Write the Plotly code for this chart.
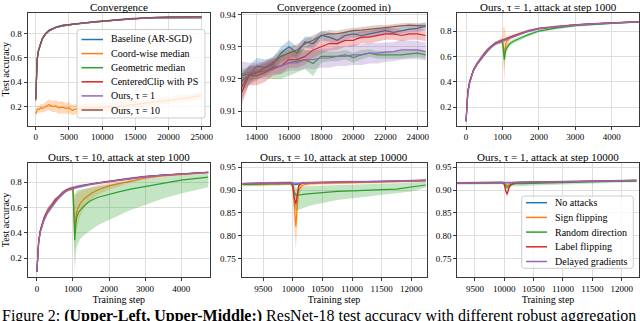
import plotly.graph_objects as go

W, H = 640, 321
SERIF = "Liberation Serif, Times New Roman, serif"

# Farben (matplotlib tab10)
BLAU, ORANGE, GRUEN, ROT, LILA, BRAUN = "#1f77b4", "#ff7f0e", "#2ca02c", "#d62728", "#9467bd", "#8c564b"

# ---------------- Panel 1: Convergence ----------------
conv_steps = [0, 100, 200, 400, 600, 800, 1000, 1500, 2000, 3000, 4000, 5000, 6000, 7000, 8000,
              9000, 10000, 12000, 14000, 16000, 18000, 20000, 22000, 24000, 25000]
conv_baseline = [0.27, 0.50, 0.59, 0.66, 0.70, 0.735, 0.76, 0.80, 0.825, 0.85, 0.865, 0.872, 0.880, 0.886, 0.891,
                 0.896, 0.900, 0.911, 0.921, 0.927, 0.931, 0.933, 0.934, 0.935, 0.936]
conv_geomed = [0.26, 0.49, 0.58, 0.655, 0.695, 0.73, 0.755, 0.795, 0.82, 0.848, 0.862, 0.870, 0.878, 0.884, 0.889,
               0.894, 0.898, 0.908, 0.918, 0.924, 0.926, 0.927, 0.9275, 0.928, 0.9275]
conv_cclip = [0.25, 0.48, 0.58, 0.655, 0.70, 0.73, 0.758, 0.798, 0.822, 0.848, 0.864, 0.871, 0.879, 0.885, 0.890,
              0.895, 0.899, 0.909, 0.919, 0.925, 0.929, 0.932, 0.934, 0.934, 0.9335]
conv_tau1 = [0.27, 0.50, 0.59, 0.66, 0.70, 0.735, 0.758, 0.797, 0.822, 0.848, 0.862, 0.870, 0.878, 0.884, 0.889,
             0.894, 0.898, 0.908, 0.919, 0.925, 0.926, 0.9275, 0.928, 0.929, 0.9285]
conv_tau10 = [0.26, 0.49, 0.585, 0.66, 0.70, 0.735, 0.76, 0.80, 0.825, 0.85, 0.865, 0.872, 0.880, 0.886, 0.891,
              0.896, 0.900, 0.911, 0.922, 0.928, 0.933, 0.935, 0.936, 0.9365, 0.9364]
conv_sd = [0.02, 0.02, 0.02, 0.015, 0.012, 0.01, 0.01, 0.008, 0.007, 0.006, 0.005, 0.005, 0.004, 0.004, 0.004,
           0.003, 0.003, 0.003, 0.002, 0.002, 0.002, 0.002, 0.002, 0.002, 0.002]

cm_steps = [0, 250, 500, 750, 1000, 1500, 2000, 2500, 3000, 3500, 4000, 4500, 5000, 5500, 6000, 7000, 8000,
            9000, 10000, 11000, 12000, 13000, 14000, 15000, 16000, 17000, 18000, 19000, 20000, 21000, 22000,
            23000, 24000, 25000]
cm_mean = [0.14, 0.18, 0.175, 0.19, 0.185, 0.20, 0.215, 0.20, 0.205, 0.19, 0.195, 0.185, 0.19, 0.17, 0.18, 0.185,
           0.19, 0.188, 0.195, 0.20, 0.198, 0.205, 0.21, 0.215, 0.22, 0.228, 0.235, 0.245, 0.25, 0.258, 0.265,
           0.272, 0.283, 0.29]
cm_sd = [0.02, 0.03, 0.03, 0.035, 0.035, 0.04, 0.045, 0.045, 0.05, 0.05, 0.05, 0.045, 0.045, 0.04, 0.04, 0.04,
         0.04, 0.035, 0.035, 0.035, 0.035, 0.03, 0.03, 0.03, 0.03, 0.03, 0.03, 0.03, 0.03, 0.03, 0.03,
         0.03, 0.03, 0.03]

# ---------------- Panel 2: Convergence (zoomed in) ----------------
zoom_steps = [13000, 13500, 14000, 14500, 15000, 15500, 16000, 16500, 17000, 17500, 18000, 18500,
              19000, 19500, 20000, 20500, 21000, 21500, 22000, 22500, 23000, 23500, 24000, 24500]
zoom_baseline = [0.919, 0.921, 0.924, 0.9235, 0.9245, 0.928, 0.930, 0.928, 0.9315, 0.931, 0.9335, 0.933,
                 0.932, 0.9335, 0.934, 0.9335, 0.934, 0.9345, 0.935, 0.9345, 0.935, 0.9355, 0.9357, 0.9365]
zoom_geomed = [0.921, 0.9215, 0.922, 0.9225, 0.923, 0.924, 0.925, 0.9255, 0.926, 0.9248, 0.927, 0.927,
               0.927, 0.9275, 0.9266, 0.9275, 0.928, 0.9275, 0.9275, 0.9275, 0.9275, 0.9278, 0.928, 0.9275]
zoom_cclip = [0.915, 0.921, 0.921, 0.922, 0.9235, 0.924, 0.926, 0.926, 0.927, 0.929, 0.930, 0.931,
              0.931, 0.932, 0.932, 0.933, 0.933, 0.9335, 0.934, 0.934, 0.9335, 0.934, 0.934, 0.9335]
zoom_tau1 = [0.9215, 0.922, 0.9225, 0.923, 0.924, 0.924, 0.925, 0.925, 0.926, 0.926, 0.9265, 0.9265,
             0.927, 0.927, 0.9275, 0.9275, 0.928, 0.928, 0.9283, 0.9285, 0.929, 0.929, 0.929, 0.9285]
zoom_tau10 = [0.917, 0.921, 0.922, 0.9235, 0.925, 0.927, 0.928, 0.929, 0.931, 0.932, 0.9335, 0.934,
              0.934, 0.9345, 0.935, 0.9352, 0.9355, 0.9358, 0.936, 0.9362, 0.9365, 0.9367, 0.9366, 0.9364]
zoom_baseline_sd = [0.003, 0.003, 0.0025, 0.0025, 0.002, 0.002, 0.002, 0.002, 0.0018, 0.0018, 0.0015, 0.0015,
                    0.0015, 0.0012, 0.0012, 0.0012, 0.001, 0.001, 0.001, 0.001, 0.001, 0.001, 0.0012, 0.0012]
zoom_geomed_sd = [0.002, 0.002, 0.002, 0.002, 0.003, 0.004, 0.004, 0.0035, 0.003, 0.004, 0.002, 0.0015,
                  0.0015, 0.0015, 0.0015, 0.0015, 0.0012, 0.0012, 0.0012, 0.0012, 0.0012, 0.0012, 0.0012, 0.0012]
zoom_cclip_sd = [0.004, 0.003, 0.003, 0.003, 0.0025, 0.0025, 0.0025, 0.0025, 0.0025, 0.0025, 0.0022, 0.0022,
                 0.002, 0.002, 0.002, 0.002, 0.002, 0.002, 0.0018, 0.0018, 0.0018, 0.0018, 0.0018, 0.0018]
zoom_tau1_sd = [0.004, 0.003, 0.0025, 0.0025, 0.0025, 0.0025, 0.0025, 0.0025, 0.0028, 0.003, 0.003, 0.003,
                0.003, 0.003, 0.0032, 0.0032, 0.0032, 0.0032, 0.003, 0.003, 0.003, 0.003, 0.0028, 0.0028]
zoom_tau10_sd = [0.004, 0.003, 0.0025, 0.002, 0.002, 0.002, 0.0018, 0.0018, 0.0015, 0.0015, 0.0012, 0.0012,
                 0.001, 0.001, 0.001, 0.001, 0.001, 0.001, 0.0008, 0.0008, 0.0008, 0.0008, 0.0008, 0.0008]

# ---------------- Panel 3: tau = 1, attack at step 1000 ----------------
a1_steps = [0, 25, 50, 100, 150, 200, 300, 400, 500, 600, 700, 800, 900, 1000, 1025, 1050, 1075, 1100,
            1200, 1300, 1500, 1700, 2000, 2500, 3000, 3500, 4000, 4500, 4740]
a1_none = [0.09, 0.25, 0.32, 0.40, 0.45, 0.49, 0.54, 0.58, 0.62, 0.65, 0.68, 0.70, 0.715, 0.725, 0.727, 0.73,
           0.732, 0.735, 0.75, 0.76, 0.78, 0.80, 0.82, 0.835, 0.848, 0.857, 0.864, 0.870, 0.873]
a1_sign = [0.09, 0.25, 0.32, 0.40, 0.45, 0.49, 0.54, 0.58, 0.62, 0.65, 0.68, 0.70, 0.715, 0.722, 0.68, 0.62,
           0.67, 0.71, 0.745, 0.76, 0.78, 0.80, 0.82, 0.835, 0.848, 0.857, 0.864, 0.870, 0.873]
a1_random = [0.09, 0.25, 0.32, 0.40, 0.45, 0.49, 0.54, 0.58, 0.62, 0.65, 0.68, 0.70, 0.715, 0.72, 0.63, 0.575,
             0.62, 0.66, 0.70, 0.72, 0.745, 0.77, 0.80, 0.825, 0.842, 0.853, 0.861, 0.868, 0.871]
a1_label = [0.09, 0.26, 0.33, 0.40, 0.45, 0.49, 0.545, 0.585, 0.62, 0.655, 0.68, 0.705, 0.715, 0.725, 0.727, 0.73,
            0.733, 0.736, 0.75, 0.762, 0.78, 0.80, 0.82, 0.836, 0.848, 0.858, 0.865, 0.870, 0.874]
a1_delay = [0.09, 0.24, 0.31, 0.39, 0.445, 0.49, 0.54, 0.58, 0.615, 0.65, 0.675, 0.70, 0.712, 0.722, 0.725, 0.728,
            0.73, 0.733, 0.748, 0.758, 0.778, 0.798, 0.818, 0.834, 0.847, 0.856, 0.863, 0.869, 0.872]
a1_sd = [0.01, 0.02, 0.02, 0.02, 0.015, 0.015, 0.015, 0.015, 0.015, 0.015, 0.012, 0.012, 0.012, 0.012, 0.012,
         0.012, 0.012, 0.012, 0.01, 0.01, 0.01, 0.01, 0.008, 0.008, 0.007, 0.007, 0.006, 0.006, 0.006]
a1_sign_sd = [0.01, 0.02, 0.02, 0.02, 0.015, 0.015, 0.015, 0.015, 0.015, 0.015, 0.012, 0.012, 0.012, 0.03, 0.15,
              0.22, 0.12, 0.05, 0.02, 0.015, 0.01, 0.01, 0.008, 0.008, 0.007, 0.007, 0.006, 0.006, 0.006]
a1_random_sd = [0.01, 0.02, 0.02, 0.02, 0.015, 0.015, 0.015, 0.015, 0.015, 0.015, 0.012, 0.012, 0.012, 0.02, 0.06,
                0.08, 0.05, 0.03, 0.02, 0.018, 0.015, 0.012, 0.01, 0.01, 0.008, 0.007, 0.006, 0.006, 0.006]

# ---------------- Panel 4: tau = 10, attack at step 1000 ----------------
a10_steps = [0, 25, 50, 100, 150, 200, 300, 400, 500, 600, 700, 800, 900, 1000, 1025, 1050, 1075, 1100, 1150,
             1200, 1300, 1400, 1500, 1700, 2000, 2300, 2600, 3000, 3500, 4000, 4500, 4750]
a10_none = [0.09, 0.25, 0.33, 0.42, 0.47, 0.51, 0.57, 0.61, 0.65, 0.68, 0.71, 0.73, 0.745, 0.755, 0.757, 0.758,
            0.76, 0.762, 0.765, 0.768, 0.775, 0.78, 0.785, 0.795, 0.805, 0.818, 0.83, 0.843, 0.855, 0.865,
            0.873, 0.877]
a10_sign = [0.09, 0.25, 0.33, 0.42, 0.47, 0.51, 0.57, 0.61, 0.65, 0.68, 0.71, 0.73, 0.745, 0.752, 0.60, 0.44,
            0.50, 0.56, 0.60, 0.63, 0.665, 0.69, 0.71, 0.74, 0.77, 0.79, 0.81, 0.832, 0.85, 0.862, 0.870, 0.875]
a10_random = [0.09, 0.25, 0.33, 0.42, 0.47, 0.51, 0.57, 0.61, 0.65, 0.68, 0.71, 0.73, 0.745, 0.748, 0.50, 0.34,
              0.45, 0.52, 0.56, 0.58, 0.61, 0.635, 0.655, 0.68, 0.705, 0.725, 0.745, 0.765, 0.79, 0.815,
              0.832, 0.84]
a10_random_lo = [0.08, 0.23, 0.31, 0.40, 0.45, 0.49, 0.55, 0.59, 0.63, 0.665, 0.695, 0.72, 0.735, 0.735, 0.30, 0.10,
                 0.20, 0.28, 0.32, 0.35, 0.38, 0.40, 0.42, 0.46, 0.50, 0.54, 0.58, 0.62, 0.67, 0.71, 0.745, 0.76]
a10_random_hi = [0.10, 0.27, 0.35, 0.44, 0.49, 0.53, 0.59, 0.63, 0.67, 0.695, 0.725, 0.74, 0.755, 0.76, 0.72, 0.70,
                 0.72, 0.73, 0.74, 0.745, 0.75, 0.755, 0.76, 0.77, 0.78, 0.795, 0.81, 0.825, 0.84, 0.855, 0.862,
                 0.866]
a10_label = [0.09, 0.26, 0.34, 0.42, 0.47, 0.52, 0.575, 0.61, 0.655, 0.68, 0.71, 0.735, 0.745, 0.755, 0.756, 0.757,
             0.76, 0.762, 0.765, 0.768, 0.774, 0.78, 0.785, 0.795, 0.806, 0.818, 0.83, 0.844, 0.856, 0.866,
             0.874, 0.878]
a10_delay = [0.09, 0.24, 0.32, 0.41, 0.465, 0.50, 0.565, 0.605, 0.645, 0.675, 0.705, 0.728, 0.742, 0.752, 0.755,
             0.756, 0.758, 0.76, 0.763, 0.766, 0.773, 0.778, 0.783, 0.793, 0.804, 0.816, 0.828, 0.842, 0.854,
             0.864, 0.872, 0.876]
a10_sd = [0.01, 0.02, 0.02, 0.02, 0.02, 0.02, 0.025, 0.02, 0.02, 0.015, 0.015, 0.012, 0.012, 0.012, 0.012, 0.012,
          0.012, 0.012, 0.012, 0.012, 0.01, 0.01, 0.01, 0.01, 0.01, 0.008, 0.008, 0.008, 0.007, 0.007, 0.006, 0.006]
a10_sign_sd = [0.01, 0.02, 0.02, 0.02, 0.02, 0.02, 0.025, 0.02, 0.02, 0.015, 0.015, 0.012, 0.012, 0.02, 0.12, 0.22,
               0.2, 0.15, 0.12, 0.1, 0.08, 0.06, 0.05, 0.04, 0.03, 0.02, 0.015, 0.012, 0.01, 0.008, 0.007, 0.006]

# ---------------- Panel 5 + 6: attack at step 10000 ----------------
late_steps = [9150, 9300, 9450, 9600, 9750, 9900, 9975, 10000, 10025, 10050, 10075, 10100, 10150, 10200,
              10300, 10500, 10750, 11000, 11250, 11500, 11750, 12000, 12250]
t10_none = [0.913, 0.914, 0.9145, 0.914, 0.9145, 0.915, 0.915, 0.914, 0.913, 0.912, 0.913, 0.914, 0.915, 0.915,
            0.916, 0.916, 0.917, 0.917, 0.918, 0.918, 0.919, 0.920, 0.921]
t10_sign = [0.912, 0.913, 0.912, 0.913, 0.913, 0.914, 0.914, 0.905, 0.85, 0.82, 0.87, 0.90, 0.91, 0.912,
            0.914, 0.915, 0.916, 0.916, 0.917, 0.918, 0.918, 0.919, 0.920]
t10_random = [0.912, 0.913, 0.913, 0.914, 0.914, 0.915, 0.915, 0.912, 0.895, 0.889, 0.889, 0.889, 0.890, 0.891,
              0.892, 0.895, 0.897, 0.898, 0.900, 0.901, 0.902, 0.906, 0.911]
t10_random_lo = [0.908, 0.909, 0.909, 0.91, 0.91, 0.911, 0.911, 0.905, 0.87, 0.855, 0.855, 0.857, 0.86, 0.862,
                 0.866, 0.872, 0.878, 0.882, 0.886, 0.89, 0.893, 0.897, 0.905]
t10_random_hi = [0.916, 0.917, 0.917, 0.918, 0.918, 0.919, 0.919, 0.917, 0.91, 0.905, 0.905, 0.906, 0.907, 0.908,
                 0.909, 0.911, 0.912, 0.913, 0.914, 0.915, 0.915, 0.916, 0.918]
t10_label = [0.914, 0.915, 0.915, 0.915, 0.916, 0.916, 0.916, 0.905, 0.88, 0.87, 0.895, 0.91, 0.915, 0.916,
             0.916, 0.917, 0.917, 0.918, 0.918, 0.919, 0.920, 0.920, 0.921]
t10_delay = [0.914, 0.915, 0.915, 0.9155, 0.915, 0.915, 0.915, 0.915, 0.914, 0.914, 0.914, 0.915, 0.915, 0.916,
             0.916, 0.917, 0.917, 0.918, 0.918, 0.919, 0.920, 0.920, 0.921]
t10_sd = [0.002, 0.002, 0.002, 0.002, 0.002, 0.002, 0.002, 0.003, 0.003, 0.003, 0.003, 0.002, 0.002, 0.002,
          0.002, 0.002, 0.002, 0.002, 0.002, 0.002, 0.002, 0.002, 0.002]
t10_sign_sd = [0.004, 0.004, 0.004, 0.003, 0.003, 0.003, 0.003, 0.01, 0.04, 0.05, 0.03, 0.012, 0.006, 0.004,
               0.003, 0.003, 0.003, 0.003, 0.003, 0.003, 0.003, 0.003, 0.003]
t10_label_sd = [0.002, 0.002, 0.002, 0.002, 0.002, 0.002, 0.002, 0.008, 0.015, 0.015, 0.01, 0.005, 0.003, 0.002,
                0.002, 0.002, 0.002, 0.002, 0.002, 0.002, 0.002, 0.002, 0.002]

t1_none = [0.915, 0.9155, 0.915, 0.916, 0.9155, 0.916, 0.916, 0.916, 0.9155, 0.915, 0.9155, 0.916, 0.916, 0.9165,
           0.9165, 0.917, 0.9175, 0.918, 0.9185, 0.919, 0.9195, 0.920, 0.9205]
t1_sign = [0.915, 0.9155, 0.915, 0.916, 0.9155, 0.916, 0.916, 0.915, 0.912, 0.909, 0.912, 0.915, 0.916, 0.9165,
           0.9165, 0.917, 0.9175, 0.918, 0.9185, 0.919, 0.9195, 0.920, 0.9205]
t1_random = [0.9145, 0.915, 0.9145, 0.9155, 0.915, 0.9155, 0.9155, 0.914, 0.908, 0.905, 0.908, 0.911, 0.913, 0.914,
             0.914, 0.915, 0.915, 0.916, 0.917, 0.918, 0.919, 0.9195, 0.920]
t1_label = [0.9155, 0.916, 0.9155, 0.916, 0.916, 0.9165, 0.9165, 0.912, 0.898, 0.891, 0.902, 0.91, 0.914, 0.916,
            0.9165, 0.917, 0.9175, 0.918, 0.9185, 0.919, 0.9195, 0.920, 0.921]
t1_delay = [0.915, 0.915, 0.9155, 0.9155, 0.916, 0.916, 0.916, 0.916, 0.916, 0.9155, 0.916, 0.916, 0.9165, 0.9165,
            0.917, 0.917, 0.9175, 0.918, 0.9185, 0.919, 0.9195, 0.9205, 0.921]
t1_sd = [0.002, 0.002, 0.002, 0.002, 0.002, 0.002, 0.002, 0.002, 0.002, 0.002, 0.002, 0.002, 0.002, 0.002,
         0.002, 0.002, 0.002, 0.002, 0.002, 0.002, 0.002, 0.002, 0.002]
t1_random_sd = [0.003, 0.003, 0.003, 0.003, 0.003, 0.003, 0.003, 0.004, 0.006, 0.007, 0.006, 0.005, 0.005, 0.005,
                0.005, 0.005, 0.005, 0.004, 0.004, 0.003, 0.003, 0.003, 0.003]
t1_label_sd = [0.002, 0.002, 0.002, 0.002, 0.002, 0.002, 0.002, 0.004, 0.006, 0.006, 0.005, 0.003, 0.002, 0.002,
               0.002, 0.002, 0.002, 0.002, 0.002, 0.002, 0.002, 0.002, 0.002]

method_names = ["Baseline (AR-SGD)", "Coord-wise median", "Geometric median", "CenteredClip with PS",
                "Ours, τ = 1", "Ours, τ = 10"]
attack_names = ["No attacks", "Sign flipping", "Random direction", "Label flipping", "Delayed gradients"]
method_colors = [BLAU, ORANGE, GRUEN, ROT, LILA, BRAUN]
attack_colors = [BLAU, ORANGE, GRUEN, ROT, LILA]

titles = ["Convergence", "Convergence (zoomed in)", "Ours, τ = 1, attack at step 1000",
          "Ours, τ = 10, attack at step 1000", "Ours, τ = 10, attack at step 10000",
          "Ours, τ = 1, attack at step 10000"]
caption = "Figure 2: <b>(Upper-Left, Upper-Middle:)</b> ResNet-18 test accuracy with different robust aggregation"


def px_x(p):
    return p / W


def px_y(p):
    return 1 - p / H


def rgba(hexcol, a):
    h = hexcol.lstrip("#")
    return "rgba(%d,%d,%d,%s)" % (int(h[0:2], 16), int(h[2:4], 16), int(h[4:6], 16), a)


fig = go.Figure()


def add_series(panel, x, y, color, sd=None, lo=None, hi=None):
    xa = "x" if panel == 1 else "x%d" % panel
    ya = "y" if panel == 1 else "y%d" % panel
    if sd is not None:
        lo = [m - s for m, s in zip(y, sd)]
        hi = [m + s for m, s in zip(y, sd)]
    if lo is not None:
        fig.add_trace(go.Scatter(x=list(x) + list(x)[::-1], y=list(lo) + list(hi)[::-1], fill="toself",
                                 fillcolor=rgba(color, 0.28), line=dict(width=0), mode="lines",
                                 hoverinfo="skip", showlegend=False, xaxis=xa, yaxis=ya))
    fig.add_trace(go.Scatter(x=x, y=y, mode="lines", line=dict(color=color, width=1.2),
                             showlegend=False, xaxis=xa, yaxis=ya))


# Panel 1
add_series(1, conv_steps, conv_baseline, BLAU, sd=conv_sd)
add_series(1, cm_steps, cm_mean, ORANGE, sd=cm_sd)
add_series(1, conv_steps, conv_geomed, GRUEN, sd=conv_sd)
add_series(1, conv_steps, conv_cclip, ROT, sd=conv_sd)
add_series(1, conv_steps, conv_tau1, LILA, sd=conv_sd)
add_series(1, conv_steps, conv_tau10, BRAUN, sd=conv_sd)

# Panel 2
add_series(2, zoom_steps, zoom_baseline, BLAU, sd=zoom_baseline_sd)
add_series(2, zoom_steps, zoom_geomed, GRUEN, sd=zoom_geomed_sd)
add_series(2, zoom_steps, zoom_cclip, ROT, sd=zoom_cclip_sd)
add_series(2, zoom_steps, zoom_tau1, LILA, sd=zoom_tau1_sd)
add_series(2, zoom_steps, zoom_tau10, BRAUN, sd=zoom_tau10_sd)

# Panel 3
add_series(3, a1_steps, a1_none, BLAU, sd=a1_sd)
add_series(3, a1_steps, a1_sign, ORANGE, sd=a1_sign_sd)
add_series(3, a1_steps, a1_random, GRUEN, sd=a1_random_sd)
add_series(3, a1_steps, a1_label, ROT, sd=a1_sd)
add_series(3, a1_steps, a1_delay, LILA, sd=a1_sd)

# Panel 4
add_series(4, a10_steps, a10_none, BLAU, sd=a10_sd)
add_series(4, a10_steps, a10_sign, ORANGE, sd=a10_sign_sd)
add_series(4, a10_steps, a10_random, GRUEN, lo=a10_random_lo, hi=a10_random_hi)
add_series(4, a10_steps, a10_label, ROT, sd=a10_sd)
add_series(4, a10_steps, a10_delay, LILA, sd=a10_sd)

# Panel 5
add_series(5, late_steps, t10_none, BLAU, sd=t10_sd)
add_series(5, late_steps, t10_sign, ORANGE, sd=t10_sign_sd)
add_series(5, late_steps, t10_random, GRUEN, lo=t10_random_lo, hi=t10_random_hi)
add_series(5, late_steps, t10_label, ROT, sd=t10_label_sd)
add_series(5, late_steps, t10_delay, LILA, sd=t10_sd)

# Panel 6
add_series(6, late_steps, t1_none, BLAU, sd=t1_sd)
add_series(6, late_steps, t1_sign, ORANGE, sd=t1_sd)
add_series(6, late_steps, t1_random, GRUEN, sd=t1_random_sd)
add_series(6, late_steps, t1_label, ROT, sd=t1_label_sd)
add_series(6, late_steps, t1_delay, LILA, sd=t1_sd)

# Achsen: Pixel-Rahmen der sechs Panels
cols = [(27.5, 210), (241.5, 426.5), (457.3, 638.7)]
rows = [(13, 125.5), (163, 277)]
panels = [
    dict(xr=[-1250, 26250], yr=[0.045, 0.967], xt=[0, 5000, 10000, 15000, 20000, 25000], yt=[0.2, 0.4, 0.6, 0.8], yf=".1f"),
    dict(xr=[13050, 24550], yr=[0.9055, 0.9405], xt=[14000, 16000, 18000, 20000, 22000, 24000], yt=[0.91, 0.92, 0.93, 0.94], yf=".2f"),
    dict(xr=[-240, 4740], yr=[0.057, 0.942], xt=[0, 1000, 2000, 3000, 4000], yt=[0.2, 0.4, 0.6, 0.8], yf=".1f"),
    dict(xr=[-260, 4800], yr=[0.05, 0.951], xt=[0, 1000, 2000, 3000, 4000], yt=[0.2, 0.4, 0.6, 0.8], yf=".1f"),
    dict(xr=[9130, 12260], yr=[0.71, 0.959], xt=[9500, 10000, 10500, 11000, 11500, 12000], yt=[0.75, 0.80, 0.85, 0.90, 0.95], yf=".2f"),
    dict(xr=[9200, 12290], yr=[0.71, 0.959], xt=[9500, 10000, 10500, 11000, 11500, 12000], yt=[0.75, 0.80, 0.85, 0.90, 0.95], yf=".2f"),
]

tickfont = dict(family=SERIF, size=9, color="black")
layout_axes = {}
for i, p in enumerate(panels):
    n = i + 1
    c0, c1 = cols[i % 3]
    r0, r1 = rows[i // 3]
    xname = "xaxis" if n == 1 else "xaxis%d" % n
    yname = "yaxis" if n == 1 else "yaxis%d" % n
    common = dict(showline=True, mirror=True, linecolor="#3a3a3a", linewidth=1, showgrid=True,
                  gridcolor="#dedede", gridwidth=1, zeroline=False, ticks="outside", ticklen=3,
                  tickwidth=1, tickcolor="#3a3a3a", tickfont=tickfont, automargin=False)
    layout_axes[xname] = dict(common, domain=[px_x(c0), px_x(c1)], range=p["xr"], tickvals=p["xt"],
                              ticktext=[str(v) for v in p["xt"]], anchor="y" if n == 1 else "y%d" % n)
    layout_axes[yname] = dict(common, domain=[px_y(r1), px_y(r0)], range=p["yr"], tickvals=p["yt"],
                              tickformat=p["yf"], anchor="x" if n == 1 else "x%d" % n)
    if n in (1, 4):
        layout_axes[yname]["title"] = dict(text="Test accuracy", font=dict(family=SERIF, size=10, color="black"),
                                           standoff=2)
    if n >= 4:
        layout_axes[xname]["title"] = dict(text="Training step", font=dict(family=SERIF, size=10, color="black"),
                                           standoff=1)

fig.update_layout(**layout_axes)

annotations = []
for i, t in enumerate(titles):
    c0, c1 = cols[i % 3]
    r0, _ = rows[i // 3]
    annotations.append(dict(text=t, x=px_x((c0 + c1) / 2), y=px_y(r0 - 13.5), xref="paper", yref="paper",
                            xanchor="center", yanchor="top", showarrow=False, borderpad=0,
                            font=dict(family=SERIF, size=11, color="black")))

shapes = []


def rounded_box(x0, y0, x1, y1, r=2.5):
    # Pfad in Papierkoordinaten, Pixelangaben umgerechnet
    rx, ry = r / W, r / H
    X0, X1 = px_x(x0), px_x(x1)
    Y0, Y1 = px_y(y0), px_y(y1)
    return ("M %f,%f L %f,%f Q %f,%f %f,%f L %f,%f Q %f,%f %f,%f L %f,%f Q %f,%f %f,%f L %f,%f Q %f,%f %f,%f Z"
            % (X0 + rx, Y0, X1 - rx, Y0, X1, Y0, X1, Y0 - ry, X1, Y1 + ry, X1, Y1, X1 - rx, Y1,
               X0 + rx, Y1, X0, Y1, X0, Y1 + ry, X0, Y0 - ry, X0, Y0, X0 + rx, Y0))


def add_legend(box, first_y, step, line_x, text_x, names, colors):
    shapes.append(dict(type="path", path=rounded_box(*box), xref="paper", yref="paper",
                       fillcolor="rgba(255,255,255,0.8)", line=dict(color="#cccccc", width=1), layer="above"))
    for k, (nm, col) in enumerate(zip(names, colors)):
        yy = first_y + k * step
        shapes.append(dict(type="line", xref="paper", yref="paper", x0=px_x(line_x[0]), x1=px_x(line_x[1]),
                           y0=px_y(yy), y1=px_y(yy), line=dict(color=col, width=1.5), layer="above"))
        annotations.append(dict(text=nm, x=px_x(text_x), y=px_y(yy), xref="paper", yref="paper",
                                xanchor="left", yanchor="middle", showarrow=False, borderpad=0,
                                font=dict(family=SERIF, size=10, color="black")))


add_legend((77, 29.5, 205, 118), 39.5, 14.1, (81.5, 103), 110, method_names, method_colors)
add_legend((521.7, 196, 633.3, 268.3), 202.7, 14.7, (526, 547), 554, attack_names, attack_colors)

# Bildunterschrift, unten abgeschnitten wie im Original
annotations.append(dict(text=caption, x=0, y=px_y(305), xref="paper", yref="paper", xanchor="left",
                        yanchor="top", showarrow=False, font=dict(family=SERIF, size=16, color="black")))

fig.update_layout(width=W, height=H, margin=dict(l=0, r=0, t=0, b=0), paper_bgcolor="white",
                  plot_bgcolor="white", showlegend=False, annotations=annotations, shapes=shapes,
                  font=dict(family=SERIF))

# Seitenrand des Browsers weg, damit die Grafik genau im Fenster sitzt
fig.write_html("out.html", config={"displayModeBar": False},
               post_script="document.body.style.margin='0';"
                           "document.documentElement.style.overflow='hidden';")
